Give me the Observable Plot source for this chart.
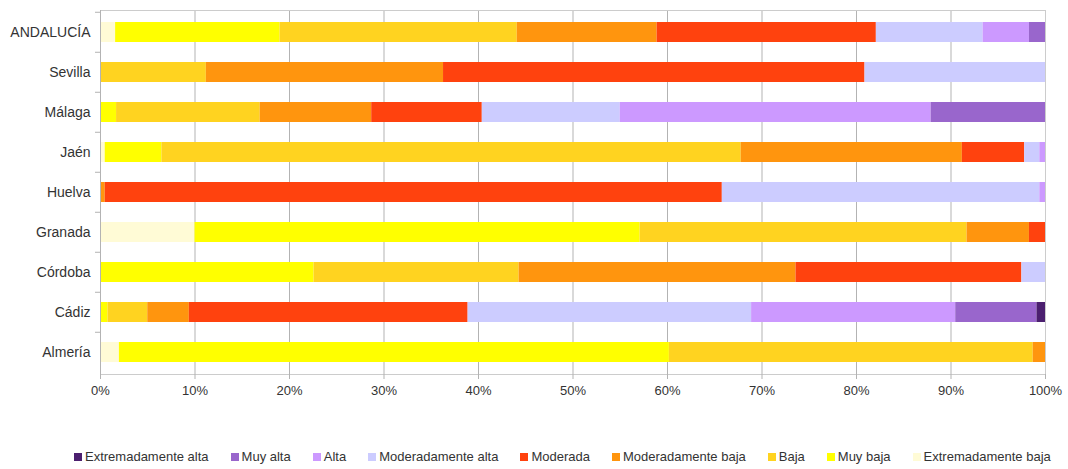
<!DOCTYPE html>
<html>
<head>
<meta charset="utf-8">
<script src="https://cdn.jsdelivr.net/npm/d3@7"></script>
<script src="https://cdn.jsdelivr.net/npm/@observablehq/plot@0.6"></script>
<style>
  body { margin: 0; background: #fff; font-family: "Liberation Sans", Arial, sans-serif; }
  #legend { display: flex; gap: 22px; margin-left: 74px; margin-top: 39px; font-size: 13px; color: #333; white-space: nowrap; }
  #legend .item { display: flex; align-items: center; }
  #legend .sw { width: 8px; height: 8px; margin-right: 3px; }
</style>
</head>
<body>
<div id="chart"></div>
<div id="legend"></div>
<script>
const regions = ["ANDALUCÍA", "Sevilla", "Málaga", "Jaén", "Huelva", "Granada", "Córdoba", "Cádiz", "Almería"];
const levels = ["Extremadamente baja", "Muy baja", "Baja", "Moderadamente baja", "Moderada", "Moderadamente alta", "Alta", "Muy alta", "Extremadamente alta"];
const colors = ["#fffbd6", "#ffff00", "#ffd320", "#ff950e", "#ff420e", "#ccccff", "#cc99ff", "#9966cc", "#4b1f6f"];

// percentage per region (same order as regions)
const extBaja  = [1.6, 0,    0,    0.5,  0,    10.0, 0,    0,    2.0];
const muyBaja  = [17.4, 0,   1.7,  6.0,  0,    47.1, 22.6, 0.8,  58.2];
const baja     = [25.1, 11.2, 15.2, 61.3, 0,   34.6, 21.7, 4.2,  38.5];
const modBaja  = [14.8, 25.1, 11.8, 23.4, 0.5, 6.6,  29.3, 4.4,  1.3];
const moderada = [23.2, 44.6, 11.7, 6.6,  65.3, 1.7, 23.9, 29.5, 0];
const modAlta  = [11.3, 19.1, 14.6, 1.6,  33.6, 0,   2.5,  30.0, 0];
const alta     = [4.9,  0,    32.9, 0.6,  0.6,  0,   0,    21.6, 0];
const muyAlta  = [1.7,  0,    12.1, 0,    0,    0,   0,    8.6,  0];
const extAlta  = [0,    0,    0,    0,    0,    0,   0,    0.9,  0];
const xTicks = [0, 10, 20, 30, 40, 50, 60, 70, 80, 90, 100];

const series = [extBaja, muyBaja, baja, modBaja, moderada, modAlta, alta, muyAlta, extAlta];
const data = [];
series.forEach((vals, li) => {
  vals.forEach((v, ri) => data.push({region: regions[ri], level: levels[li], value: v}));
});

const width = 1068, height = 410, mt = 10, mb = 36, ml = 100, mr = 23;
const step = (height - mt - mb) / regions.length;

const chart = Plot.plot({
  width, height,
  marginTop: mt, marginBottom: mb, marginLeft: ml, marginRight: mr,
  style: {fontFamily: "Liberation Sans, Arial, sans-serif", fontSize: "13px", color: "#333", background: "#fff"},
  x: {domain: [0, 100], ticks: xTicks, tickFormat: d => d + "%"},
  y: {domain: regions, paddingInner: 0.5, paddingOuter: 0.25, align: 0.5},
  color: {domain: levels, range: colors},
  marks: [
    Plot.gridX(xTicks, {stroke: "#b3b3b3", strokeOpacity: 1}),
    Plot.frame({stroke: "#cccccc"}),
    Plot.barX(data, {x: "value", y: "region", fill: "level", order: levels, inset: 0}),
    Plot.ruleX([0], {stroke: "#b3b3b3"}),
    Plot.ruleY([0], {frameAnchor: "bottom", stroke: "#b3b3b3"}),
    Plot.axisX({ticks: xTicks, tickSize: 5, tickPadding: 6, stroke: "#b3b3b3", fill: "#333", fontSize: 13, tickFormat: d => d + "%", label: null}),
    Plot.axisY({tickSize: 5, tickFormat: () => "", stroke: "#b3b3b3", dy: -step / 2, label: null}),
    Plot.axisY({tickSize: 0, tickPadding: 10, fontSize: 14, fill: "#333", label: null})
  ]
});
document.getElementById("chart").appendChild(chart);

const legend = document.getElementById("legend");
[...levels].reverse().forEach(l => {
  const it = document.createElement("div");
  it.className = "item";
  const sw = document.createElement("span");
  sw.className = "sw";
  sw.style.background = colors[levels.indexOf(l)];
  const tx = document.createElement("span");
  tx.textContent = l;
  it.appendChild(sw); it.appendChild(tx);
  legend.appendChild(it);
});
</script>
</body>
</html>
